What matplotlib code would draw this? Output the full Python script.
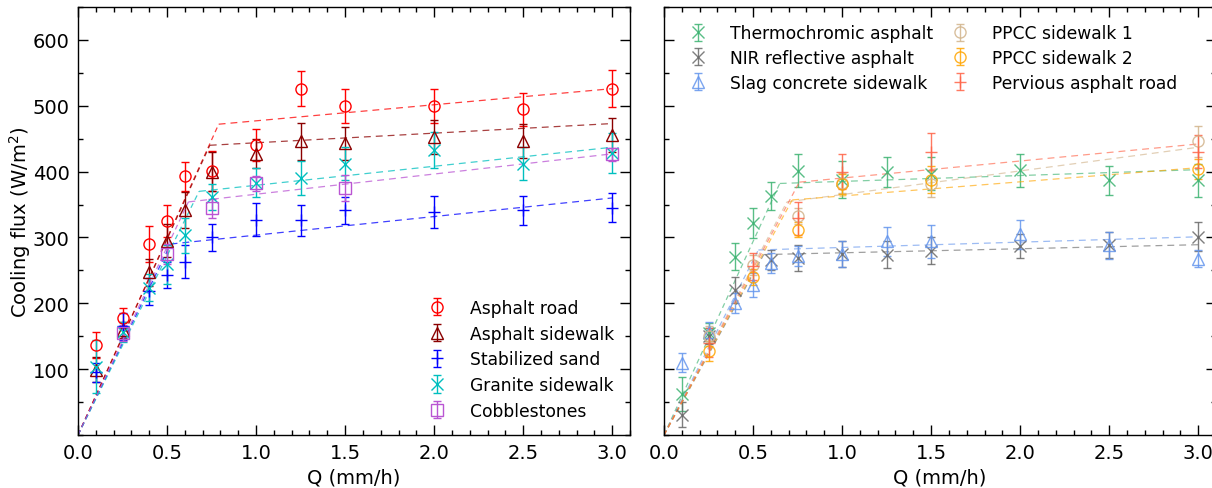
import matplotlib
matplotlib.use("Agg")
import matplotlib.pyplot as plt
import numpy as np
from matplotlib.ticker import MultipleLocator

# ---- left panel: conventional pavements ----
q_full = [0.1, 0.25, 0.4, 0.5, 0.6, 0.75, 1.0, 1.25, 1.5, 2.0, 2.5, 3.0]
q_short = [0.25, 0.5, 0.75, 1.0, 1.5, 3.0]

road_y = [137, 178, 290, 325, 393, 401, 440, 526, 500, 500, 495, 526]
road_err = [20, 15, 27, 25, 22, 30, 24, 27, 26, 26, 25, 28]
side_y = [99, 160, 247, 295, 342, 400, 427, 446, 443, 452, 446, 456]
side_err = [19, 12, 21, 25, 27, 30, 22, 28, 25, 26, 26, 26]
sand_y = [95, 165, 218, 243, 263, 300, 327, 326, 341, 339, 341, 345]
sand_err = [15, 20, 20, 20, 25, 20, 25, 24, 21, 24, 22, 22]
granite_y = [104, 156, 224, 259, 303, 361, 383, 390, 412, 433, 412, 428]
granite_err = [40, 15, 20, 30, 27, 20, 22, 26, 25, 27, 25, 30]
cobble_y = [155, 275, 344, 382, 375, 426]
cobble_err = [12, 15, 15, 12, 20, 10]

# ---- right panel: cool pavements ----
q_nir = [0.1, 0.25, 0.4, 0.6, 0.75, 1.0, 1.25, 1.5, 2.0, 2.5, 3.0]
thermo_y = [62, 155, 271, 322, 363, 401, 388, 399, 397, 402, 387, 387]
thermo_err = [26, 15, 20, 23, 21, 25, 28, 23, 25, 25, 22, 25]
nir_y = [31, 150, 220, 266, 269, 275, 274, 280, 287, 289, 301]
nir_err = [19, 12, 20, 15, 20, 20, 20, 20, 18, 20, 22]
slag_y = [110, 157, 200, 228, 261, 272, 275, 294, 294, 305, 288, 268]
slag_err = [15, 15, 15, 18, 15, 15, 20, 22, 25, 22, 20, 13]
ppcc1_y = [150, 258, 333, 383, 381, 446]
ppcc1_err = [15, 15, 12, 15, 20, 24]
ppcc2_y = [128, 240, 312, 381, 388, 404]
ppcc2_err = [15, 12, 12, 15, 20, 15]
perv_y = [140, 256, 329, 400, 430, 430]
perv_err = [22, 20, 25, 27, 28, 25]

# piecewise fits: (break Q, flux at break, flux at Q=3)
fits_left = [(0.79, 472, 526), (0.74, 440, 473), (0.52, 290, 360),
             (0.68, 370, 437), (0.62, 354, 427)]
fits_right = [(0.65, 382, 403), (0.56, 274, 289), (0.53, 281, 301),
              (0.69, 354, 437), (0.72, 357, 406), (0.76, 384, 442)]

left_series = [
    ("Asphalt road", q_full, road_y, road_err, "red", "o"),
    ("Asphalt sidewalk", q_full, side_y, side_err, "darkred", "^"),
    ("Stabilized sand", q_full, sand_y, sand_err, "blue", "+"),
    ("Granite sidewalk", q_full, granite_y, granite_err, "c", "x"),
    ("Cobblestones", q_short, cobble_y, cobble_err, "mediumorchid", "s"),
]
right_series = [
    ("Thermochromic asphalt", q_full, thermo_y, thermo_err, "mediumseagreen", "x"),
    ("NIR reflective asphalt", q_nir, nir_y, nir_err, "dimgray", "x"),
    ("Slag concrete sidewalk", q_full, slag_y, slag_err, "cornflowerblue", "^"),
    ("PPCC sidewalk 1", q_short, ppcc1_y, ppcc1_err, "tan", "o"),
    ("PPCC sidewalk 2", q_short, ppcc2_y, ppcc2_err, "orange", "o"),
    ("Pervious asphalt road", q_short, perv_y, perv_err, "tomato", "+"),
]

plt.rcParams["font.family"] = ["DejaVu Sans"]
plt.rcParams["mathtext.fontset"] = "dejavusans"

fig = plt.figure(figsize=(12.12, 4.89), dpi=100)
W, H = 1212, 489
ax1 = fig.add_axes([78 / W, 53 / H, 552 / W, 428 / H])
ax2 = fig.add_axes([664 / W, 53 / H, 552 / W, 428 / H])


def draw_panel(ax, series, fits, alpha):
    for (label, x, y, err, color, marker), (xb, yb, y3) in zip(series, fits):
        steep_x = np.array([0.0, xb])
        steep_y = np.array([0.0, yb])
        flat_x = np.array([xb, 3.0])
        flat_y = np.array([yb, y3])
        ax.plot(steep_x, steep_y, ls="--", dashes=(4, 3), lw=0.9,
                color=color, alpha=0.75 * alpha)
        ax.plot(flat_x, flat_y, ls="--", dashes=(5.5, 4), lw=0.9,
                color=color, alpha=0.75 * alpha)
        ax.errorbar(x, y, yerr=err, fmt=marker, color=color, ecolor=color,
                    mfc="none", mec=color, ms=8, mew=1.0, elinewidth=1.0,
                    capsize=3, capthick=1.0, alpha=alpha, label=label)


draw_panel(ax1, left_series, fits_left, 1.0)
draw_panel(ax2, right_series, fits_right, 0.85)

for ax in (ax1, ax2):
    ax.set_xlim(0, 3.1)
    ax.set_ylim(0, 650)
    ax.set_xticks([0.0, 0.5, 1.0, 1.5, 2.0, 2.5, 3.0])
    ax.xaxis.set_minor_locator(MultipleLocator(0.1))
    ax.set_yticks([100, 200, 300, 400, 500, 600])
    ax.yaxis.set_minor_locator(MultipleLocator(50))
    ax.tick_params(which="both", direction="in", top=True, right=True,
                   labelsize=14, width=1, pad=6)
    ax.tick_params(which="major", length=7)
    ax.tick_params(which="minor", length=3.5)
    ax.set_xlabel("Q (mm/h)", fontsize=14, labelpad=4)
    for s in ax.spines.values():
        s.set_linewidth(1.0)

ax1.set_ylabel("Cooling flux (W/m$^2$)", fontsize=14, labelpad=0)
ax2.tick_params(labelleft=False)

ax1.legend(loc="lower right", frameon=False, fontsize=12.3, numpoints=1,
           labelspacing=0.45, handletextpad=0.95, borderaxespad=0.5)
ax2.legend(loc="upper left", frameon=False, fontsize=12.3, numpoints=1,
           ncol=2, labelspacing=0.4, handletextpad=0.87, columnspacing=0.55,
           borderaxespad=0.6)

fig.savefig("out.png", dpi=100)
